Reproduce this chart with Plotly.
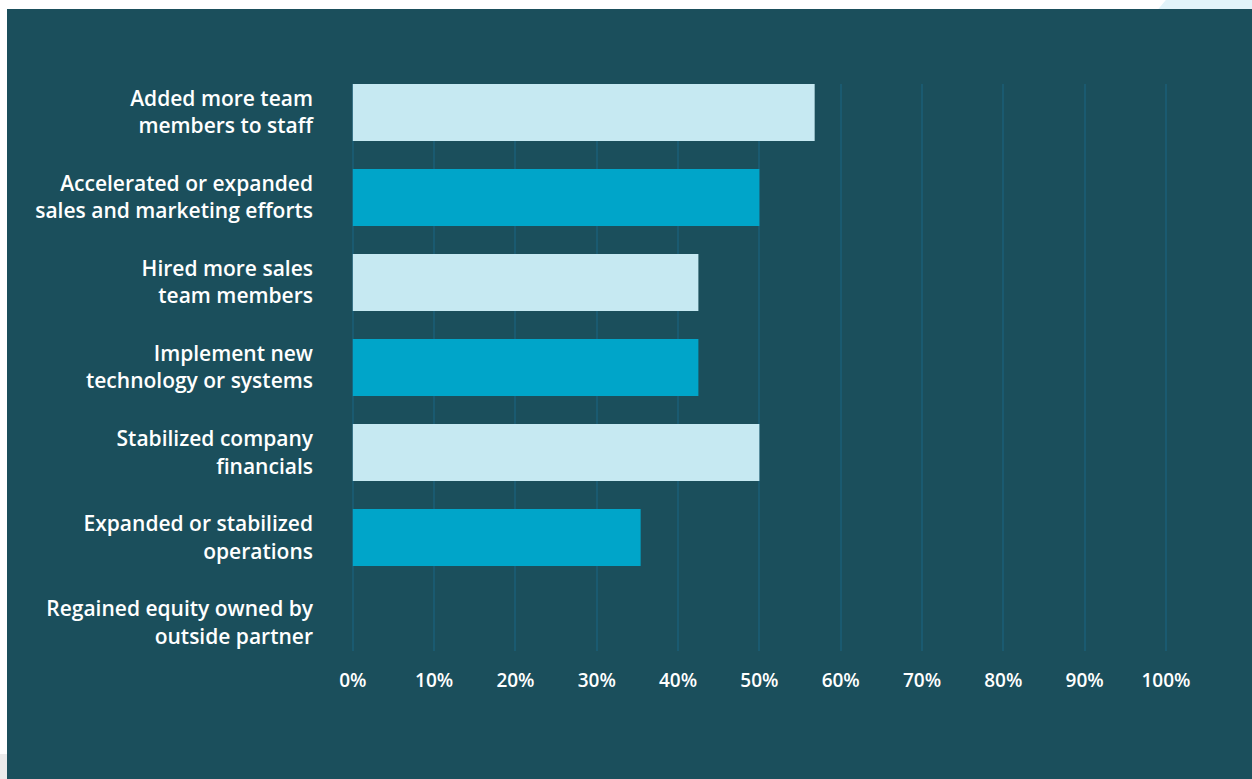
import plotly.graph_objects as go

# Survey responses: share of firms reporting each action
categories = [
    "Added more team<br>members to staff",
    "Accelerated or expanded<br>sales and marketing efforts",
    "Hired more sales<br>team members",
    "Implement new<br>technology or systems",
    "Stabilized company<br>financials",
    "Expanded or stabilized<br>operations",
    "Regained equity owned by<br>outside partner",
]
values = [56.8, 50.0, 42.5, 42.5, 50.0, 35.4, 0.0]
bar_colors = ["#c6e9f2", "#00a5c9", "#c6e9f2", "#00a5c9", "#c6e9f2", "#00a5c9", "#c6e9f2"]

tick_vals = [0, 10, 20, 30, 40, 50, 60, 70, 80, 90, 100]
tick_text = [f"{v}%" for v in tick_vals]

PANEL = "#1b4f5c"
GRID = "#1a5a70"
W, H = 1252, 779
L, R, T, B = 352, 82, 84, 128
pw, ph = W - L - R, H - T - B


def px_x(p):
    return (p - L) / pw


def px_y(p):
    return 1 - (p - T) / ph


fig = go.Figure(
    go.Bar(
        x=values,
        y=categories,
        orientation="h",
        marker=dict(color=bar_colors, line=dict(width=0)),
        width=0.67,
        hoverinfo="skip",
    )
)

fig.update_layout(
    width=W,
    height=H,
    margin=dict(l=L, r=R, t=T, b=B, pad=0),
    paper_bgcolor="white",
    plot_bgcolor=PANEL,
    showlegend=False,
    font=dict(family="Open Sans", color="white"),
    shapes=[
        # light decorative arc peeking above the panel, top right
        dict(type="circle", xref="paper", yref="paper", layer="below",
             x0=px_x(1120), x1=px_x(1480), y0=px_y(300), y1=px_y(-60),
             fillcolor="#e1f3f9", line=dict(width=0)),
        # grey strip at lower left
        dict(type="rect", xref="paper", yref="paper", layer="below",
             x0=px_x(-5), x1=px_x(10), y0=px_y(754), y1=px_y(790),
             fillcolor="#ebebeb", line=dict(width=0)),
        # dark panel behind the chart
        dict(type="rect", xref="paper", yref="paper", layer="below",
             x0=px_x(7), x1=px_x(W + 5), y0=px_y(9), y1=px_y(H + 5),
             fillcolor=PANEL, line=dict(width=0)),
    ],
)

fig.update_xaxes(
    range=[-0.1, 100.5],
    tickvals=tick_vals,
    ticktext=tick_text,
    showgrid=True,
    gridcolor=GRID,
    gridwidth=2,
    zeroline=True,
    zerolinecolor=GRID,
    zerolinewidth=2,
    showline=False,
    ticks="",
    ticklabelstandoff=16,
    tickfont=dict(family="Open Sans", size=19, color="white", weight=600),
    fixedrange=True,
)

fig.update_yaxes(
    categoryorder="array",
    categoryarray=categories,
    range=[6.335, -0.335],
    autorange=False,
    showgrid=False,
    zeroline=False,
    showline=False,
    ticks="",
    ticklabelstandoff=38,
    tickfont=dict(family="Open Sans", size=21, color="white", weight=600),
    fixedrange=True,
)

fig.write_html("out.html", config={"displayModeBar": False})
